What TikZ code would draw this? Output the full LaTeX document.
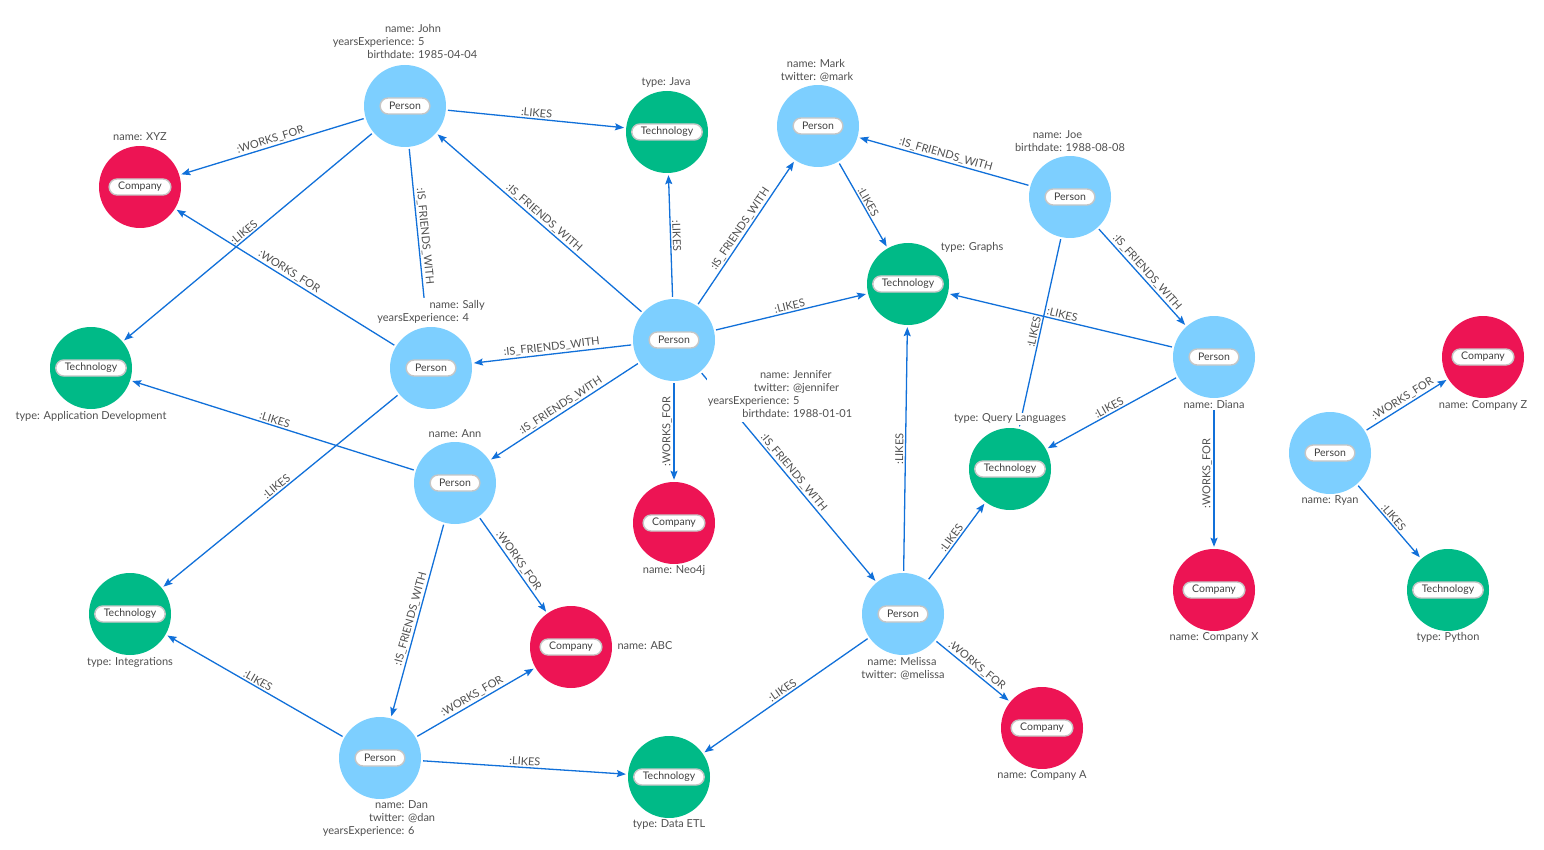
\documentclass[tikz,border=0pt]{standalone}
\usepackage{fontspec}
\setmainfont{Lato}
\usepackage{xcolor}
\usetikzlibrary{arrows.meta}

\definecolor{personblue}{HTML}{7DCFFF}
\definecolor{companyred}{HTML}{ED1454}
\definecolor{techgreen}{HTML}{00BA87}
\definecolor{relblue}{HTML}{1170D9}
\definecolor{textgray}{HTML}{505050}

% property captions, keys aligned on the colon
\newcommand{\props}[1]{\fontsize{11}{13}\selectfont\begin{tabular}{@{}r@{: }l@{}}#1\end{tabular}}

\begin{document}
\begin{tikzpicture}[
    x=1pt, y=-1pt,
    % Styles
    pill/.style={draw=gray!45, fill=white, line width=1.4pt, rounded corners=8pt, minimum height=16pt, inner xsep=9pt, inner ysep=0.5pt, text=black!75, font=\fontsize{10.5}{12}\selectfont},
    entity/.style={circle, minimum size=82pt, inner sep=0pt},
    person/.style={entity, fill=personblue, label={[pill]center:Person}},
    company/.style={entity, fill=companyred, label={[pill]center:Company}},
    tech/.style={entity, fill=techgreen, label={[pill]center:Technology}},
    caption/.style={fill=white, inner sep=1pt, text=textgray, font=\fontsize{11}{13}\selectfont},
    rel/.style={-{Stealth[length=9pt, width=7pt, inset=1.5pt]}, line width=1.3pt, color=relblue, shorten >=2pt, shorten <=2pt},
    elabel/.style={sloped, above, inner sep=1.5pt, text=textgray, font=\fontsize{11}{12}\selectfont},
    vlabel/.style={rotate=90, above, inner sep=1.5pt, text=textgray, font=\fontsize{11}{12}\selectfont}
]
\useasboundingbox (0,0) rectangle (1544,850);

% People
\node[person] (john) at (405,106) {};
\node[person] (mark) at (818,126) {};
\node[person] (joe) at (1070,197) {};
\node[person] (sally) at (431,368) {};
\node[person] (jennifer) at (674,340) {};
\node[person] (ann) at (455,483) {};
\node[person] (diana) at (1214,357) {};
\node[person] (ryan) at (1330,453) {};
\node[person] (melissa) at (903,614) {};
\node[person] (dan) at (380,758) {};

% Companies
\node[company] (xyz) at (140,187) {};
\node[company] (neo4j) at (674,523) {};
\node[company] (abc) at (571,647) {};
\node[company] (companyz) at (1483,357) {};
\node[company] (companyx) at (1214,590) {};
\node[company] (companya) at (1042,728) {};

% Technologies
\node[tech] (java) at (667,132) {};
\node[tech] (graphs) at (908,284) {};
\node[tech] (appdev) at (91,368) {};
\node[tech] (querylang) at (1010,469) {};
\node[tech] (integrations) at (130,614) {};
\node[tech] (python) at (1448,590) {};
\node[tech] (dataetl) at (669,777) {};

% Relationships
\draw[rel] (john) -- node[elabel] {:WORKS\_FOR} (xyz);
\draw[rel] (john) -- node[elabel] {:LIKES} (java);
\draw[rel] (john) -- node[elabel] {:LIKES} (appdev);
\draw[rel] (john) -- node[elabel] {:IS\_FRIENDS\_WITH} (sally);
\draw[rel] (jennifer) -- node[elabel] {:IS\_FRIENDS\_WITH} (john);
\draw[rel] (sally) -- node[elabel] {:WORKS\_FOR} (xyz);
\draw[rel] (sally) -- node[elabel] {:LIKES} (integrations);
\draw[rel] (jennifer) -- node[elabel] {:LIKES} (java);
\draw[rel] (jennifer) -- node[elabel] {:IS\_FRIENDS\_WITH} (mark);
\draw[rel] (jennifer) -- node[elabel] {:IS\_FRIENDS\_WITH} (sally);
\draw[rel] (jennifer) -- node[elabel] {:IS\_FRIENDS\_WITH} (ann);
\draw[rel] (jennifer) -- node[vlabel] {:WORKS\_FOR} (neo4j);
\draw[rel] (jennifer) -- node[elabel] {:LIKES} (graphs);
\draw[rel] (jennifer) -- node[elabel] {:IS\_FRIENDS\_WITH} (melissa);
\draw[rel] (mark) -- node[elabel] {:LIKES} (graphs);
\draw[rel] (joe) -- node[elabel] {:IS\_FRIENDS\_WITH} (mark);
\draw[rel] (joe) -- node[elabel] {:IS\_FRIENDS\_WITH} (diana);
\draw[rel] (joe) -- node[elabel] {:LIKES} (querylang);
\draw[rel] (diana) -- node[elabel] {:LIKES} (graphs);
\draw[rel] (diana) -- node[elabel] {:LIKES} (querylang);
\draw[rel] (diana) -- node[vlabel] {:WORKS\_FOR} (companyx);
\draw[rel] (ryan) -- node[elabel] {:WORKS\_FOR} (companyz);
\draw[rel] (ryan) -- node[elabel] {:LIKES} (python);
\draw[rel] (ann) -- node[elabel] {:LIKES} (appdev);
\draw[rel] (ann) -- node[elabel] {:IS\_FRIENDS\_WITH} (dan);
\draw[rel] (ann) -- node[elabel] {:WORKS\_FOR} (abc);
\draw[rel] (dan) -- node[elabel] {:LIKES} (integrations);
\draw[rel] (dan) -- node[elabel] {:WORKS\_FOR} (abc);
\draw[rel] (dan) -- node[elabel] {:LIKES} (dataetl);
\draw[rel] (melissa) -- node[elabel] {:LIKES} (graphs);
\draw[rel] (melissa) -- node[elabel] {:LIKES} (querylang);
\draw[rel] (melissa) -- node[elabel] {:LIKES} (dataetl);
\draw[rel] (melissa) -- node[elabel] {:WORKS\_FOR} (companya);

% Property captions
\node[caption] (johnprops) at (405,43) {\props{name & John\\ yearsExperience & 5\\ birthdate & 1985-04-04}};
\node[caption] (markprops) at (817,71) {\props{name & Mark\\ twitter & @mark}};
\node[caption] (joeprops) at (1070,142) {\props{name & Joe\\ birthdate & 1988-08-08}};
\node[caption] (sallyprops) at (431,312) {\props{name & Sally\\ yearsExperience & 4}};
\node[caption] (jenniferprops) at (780,395) {\props{name & Jennifer\\ twitter & @jennifer\\ yearsExperience & 5\\ birthdate & 1988-01-01}};
\node[caption] (melissaprops) at (903,669) {\props{name & Melissa\\ twitter & @melissa}};
\node[caption] (danprops) at (379,819) {\props{name & Dan\\ twitter & @dan\\ yearsExperience & 6}};
\node[caption] (annprops) at (455,434) {name: Ann};
\node[caption] (dianaprops) at (1214,405) {name: Diana};
\node[caption] (ryanprops) at (1330,500) {name: Ryan};
\node[caption] (xyzprops) at (140,137) {name: XYZ};
\node[caption] (neo4jprops) at (674,570) {name: Neo4j};
\node[caption] (abcprops) at (645,646) {name: ABC};
\node[caption] (companyzprops) at (1483,405) {name: Company Z};
\node[caption] (companyxprops) at (1214,637) {name: Company X};
\node[caption] (companyaprops) at (1042,775) {name: Company A};
\node[caption] (javaprops) at (666,83) {type: Java};
\node[caption] (graphsprops) at (972,247) {type: Graphs};
\node[caption] (appdevprops) at (91,416) {type: Application Development};
\node[caption] (querylangprops) at (1010,419) {type: Query Languages};
\node[caption] (integrationsprops) at (130,662) {type: Integrations};
\node[caption] (pythonprops) at (1448,637) {type: Python};
\node[caption] (dataetlprops) at (669,824) {type: Data ETL};

\end{tikzpicture}
\end{document}
